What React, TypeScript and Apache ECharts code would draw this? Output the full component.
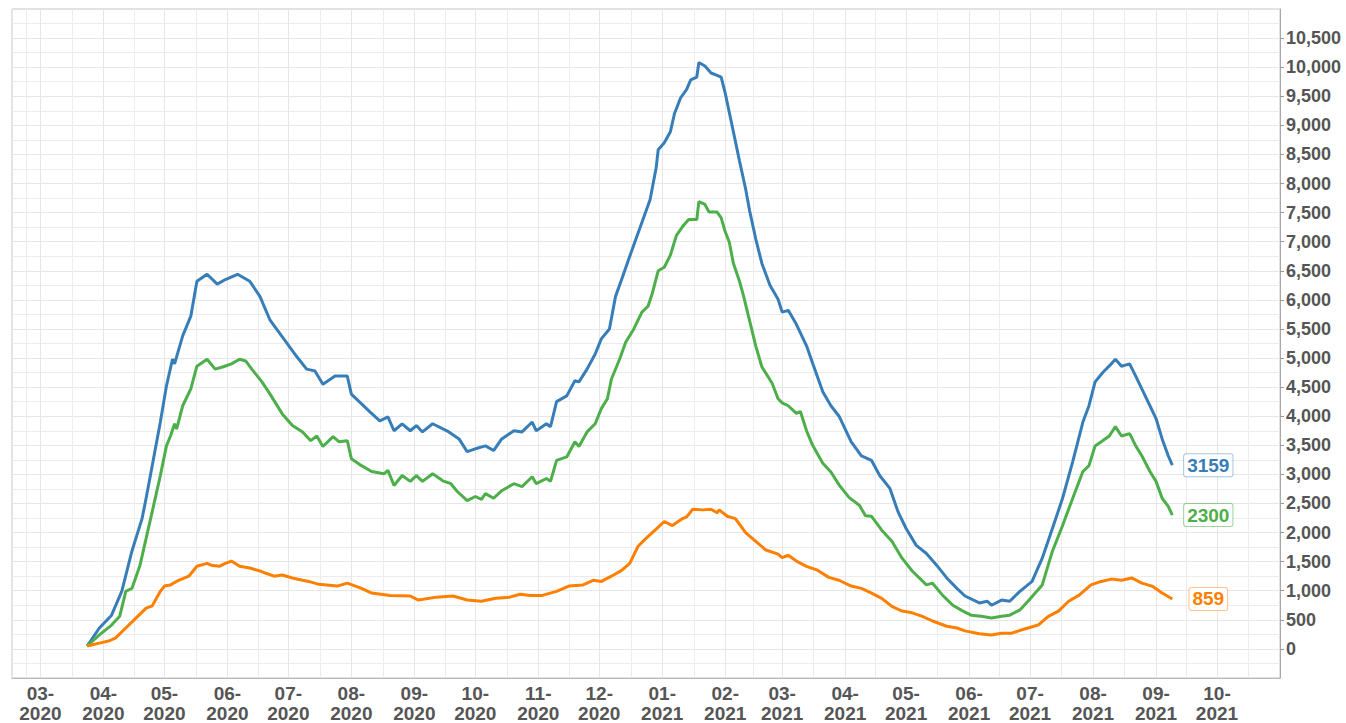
import React, { useEffect, useRef } from "react";
import * as echarts from "echarts";

// ---- Data ----
const seriesNames = ["Total", "Group A", "Group B"];
const seriesColors = ["#377eb8", "#4daf4a", "#ff7f00"];
const labelBorderColors = ["rgba(55,126,184,0.45)", "rgba(77,175,74,0.55)", "rgba(255,127,0,0.45)"];

const yTickValues = [0, 500, 1000, 1500, 2000, 2500, 3000, 3500, 4000, 4500, 5000, 5500, 6000, 6500, 7000, 7500, 8000, 8500, 9000, 9500, 10000, 10500];

const totalData: [string, number][] = [
  ["2020-03-24", 50], ["2020-03-30", 360], ["2020-04-05", 580], ["2020-04-10", 990], ["2020-04-13", 1400],
  ["2020-04-15", 1680], ["2020-04-20", 2240], ["2020-04-22", 2590], ["2020-04-25", 3150], ["2020-04-29", 3900],
  ["2020-05-02", 4520], ["2020-05-05", 4980], ["2020-05-06", 4900], ["2020-05-10", 5380], ["2020-05-14", 5720],
  ["2020-05-17", 6320], ["2020-05-22", 6440], ["2020-05-27", 6270], ["2020-05-31", 6350], ["2020-06-06", 6440],
  ["2020-06-12", 6320], ["2020-06-17", 6060], ["2020-06-22", 5650], ["2020-06-30", 5270], ["2020-07-05", 5030],
  ["2020-07-10", 4810], ["2020-07-14", 4780], ["2020-07-18", 4550], ["2020-07-24", 4690], ["2020-07-30", 4690],
  ["2020-08-01", 4380], ["2020-08-10", 4080], ["2020-08-15", 3920], ["2020-08-19", 3990], ["2020-08-22", 3750],
  ["2020-08-26", 3870], ["2020-08-30", 3750], ["2020-09-02", 3840], ["2020-09-05", 3730], ["2020-09-10", 3870],
  ["2020-09-18", 3730], ["2020-09-23", 3610], ["2020-09-27", 3390], ["2020-10-01", 3440], ["2020-10-06", 3490],
  ["2020-10-10", 3410], ["2020-10-14", 3610], ["2020-10-20", 3750], ["2020-10-24", 3730], ["2020-10-29", 3900],
  ["2020-10-31", 3750], ["2020-11-05", 3870], ["2020-11-07", 3820], ["2020-11-10", 4250], ["2020-11-15", 4350],
  ["2020-11-19", 4610], ["2020-11-21", 4590], ["2020-11-25", 4810], ["2020-11-29", 5070], ["2020-12-02", 5330],
  ["2020-12-06", 5500], ["2020-12-09", 6060], ["2020-12-12", 6350], ["2020-12-16", 6750], ["2020-12-26", 7720],
  ["2020-12-29", 8270], ["2020-12-30", 8580], ["2021-01-02", 8700], ["2021-01-05", 8890], ["2021-01-07", 9200],
  ["2021-01-10", 9470], ["2021-01-13", 9620], ["2021-01-15", 9780], ["2021-01-18", 9830], ["2021-01-19", 10080],
  ["2021-01-22", 10020], ["2021-01-25", 9900], ["2021-01-28", 9860], ["2021-01-30", 9830], ["2021-02-01", 9550],
  ["2021-02-03", 9220], ["2021-02-05", 8890], ["2021-02-08", 8390], ["2021-02-11", 7910], ["2021-02-13", 7530],
  ["2021-02-16", 7050], ["2021-02-19", 6630], ["2021-02-23", 6250], ["2021-02-27", 6010], ["2021-03-01", 5790],
  ["2021-03-04", 5820], ["2021-03-08", 5580], ["2021-03-13", 5210], ["2021-03-16", 4910], ["2021-03-21", 4420],
  ["2021-03-25", 4180], ["2021-03-29", 4000], ["2021-04-04", 3560], ["2021-04-09", 3320], ["2021-04-14", 3240],
  ["2021-04-18", 2980], ["2021-04-23", 2760], ["2021-04-27", 2360], ["2021-05-01", 2070], ["2021-05-06", 1780],
  ["2021-05-11", 1640], ["2021-05-16", 1440], ["2021-05-21", 1220], ["2021-05-26", 1040], ["2021-05-30", 910],
  ["2021-06-06", 790], ["2021-06-10", 820], ["2021-06-12", 750], ["2021-06-17", 840], ["2021-06-21", 820],
  ["2021-06-26", 990], ["2021-07-02", 1160], ["2021-07-07", 1560], ["2021-07-12", 2070], ["2021-07-17", 2590],
  ["2021-07-22", 3220], ["2021-07-27", 3900], ["2021-07-30", 4180], ["2021-08-02", 4590], ["2021-08-06", 4760],
  ["2021-08-10", 4900], ["2021-08-12", 4980], ["2021-08-15", 4860], ["2021-08-19", 4900], ["2021-08-22", 4690],
  ["2021-08-25", 4470], ["2021-08-29", 4180], ["2021-09-01", 3960], ["2021-09-04", 3610], ["2021-09-07", 3320],
  ["2021-09-09", 3159],
];

const groupAData: [string, number][] = [
  ["2020-03-24", 50], ["2020-03-30", 240], ["2020-04-05", 410], ["2020-04-09", 560], ["2020-04-12", 990],
  ["2020-04-15", 1040], ["2020-04-19", 1440], ["2020-04-22", 1900], ["2020-04-25", 2360], ["2020-04-29", 2980],
  ["2020-05-02", 3490], ["2020-05-04", 3660], ["2020-05-06", 3870], ["2020-05-07", 3780], ["2020-05-10", 4180],
  ["2020-05-14", 4470], ["2020-05-17", 4860], ["2020-05-22", 4980], ["2020-05-26", 4810], ["2020-05-30", 4850],
  ["2020-06-03", 4900], ["2020-06-07", 4980], ["2020-06-10", 4950], ["2020-06-13", 4810], ["2020-06-18", 4590],
  ["2020-06-22", 4380], ["2020-06-28", 4040], ["2020-07-03", 3840], ["2020-07-08", 3730], ["2020-07-12", 3580],
  ["2020-07-15", 3660], ["2020-07-18", 3480], ["2020-07-23", 3650], ["2020-07-26", 3560], ["2020-07-30", 3580],
  ["2020-08-01", 3270], ["2020-08-06", 3150], ["2020-08-11", 3050], ["2020-08-17", 3010], ["2020-08-19", 3070],
  ["2020-08-22", 2810], ["2020-08-26", 2980], ["2020-08-30", 2880], ["2020-09-02", 2980], ["2020-09-05", 2880],
  ["2020-09-10", 3010], ["2020-09-15", 2890], ["2020-09-19", 2840], ["2020-09-22", 2710], ["2020-09-27", 2550],
  ["2020-10-01", 2620], ["2020-10-04", 2570], ["2020-10-06", 2670], ["2020-10-10", 2590], ["2020-10-14", 2720],
  ["2020-10-20", 2840], ["2020-10-24", 2790], ["2020-10-29", 2960], ["2020-10-31", 2840], ["2020-11-05", 2930],
  ["2020-11-07", 2880], ["2020-11-10", 3240], ["2020-11-15", 3300], ["2020-11-19", 3560], ["2020-11-21", 3480],
  ["2020-11-25", 3730], ["2020-11-29", 3870], ["2020-12-02", 4130], ["2020-12-05", 4300], ["2020-12-07", 4640],
  ["2020-12-11", 4980], ["2020-12-14", 5270], ["2020-12-18", 5500], ["2020-12-22", 5790], ["2020-12-25", 5890],
  ["2020-12-27", 6100], ["2020-12-30", 6500], ["2021-01-02", 6560], ["2021-01-05", 6770], ["2021-01-08", 7110],
  ["2021-01-11", 7260], ["2021-01-14", 7380], ["2021-01-18", 7380], ["2021-01-19", 7690], ["2021-01-22", 7640],
  ["2021-01-24", 7510], ["2021-01-28", 7510], ["2021-01-30", 7410], ["2021-02-01", 7170], ["2021-02-03", 6990],
  ["2021-02-05", 6630], ["2021-02-08", 6320], ["2021-02-10", 6070], ["2021-02-13", 5640], ["2021-02-16", 5210],
  ["2021-02-19", 4850], ["2021-02-24", 4570], ["2021-02-27", 4300], ["2021-03-01", 4230], ["2021-03-04", 4180],
  ["2021-03-08", 4050], ["2021-03-10", 4080], ["2021-03-13", 3750], ["2021-03-16", 3500], ["2021-03-21", 3190],
  ["2021-03-25", 3040], ["2021-03-29", 2820], ["2021-04-03", 2600], ["2021-04-08", 2470], ["2021-04-11", 2290],
  ["2021-04-14", 2280], ["2021-04-19", 2040], ["2021-04-24", 1850], ["2021-04-29", 1560], ["2021-05-04", 1340],
  ["2021-05-11", 1100], ["2021-05-14", 1130], ["2021-05-19", 920], ["2021-05-24", 750], ["2021-05-29", 650],
  ["2021-06-02", 580], ["2021-06-07", 560], ["2021-06-12", 530], ["2021-06-17", 560], ["2021-06-21", 580],
  ["2021-06-26", 670], ["2021-06-30", 820], ["2021-07-07", 1100], ["2021-07-12", 1680], ["2021-07-17", 2120],
  ["2021-07-22", 2590], ["2021-07-27", 3050], ["2021-07-30", 3150], ["2021-08-02", 3490], ["2021-08-05", 3560],
  ["2021-08-09", 3660], ["2021-08-12", 3820], ["2021-08-15", 3660], ["2021-08-19", 3700], ["2021-08-22", 3490],
  ["2021-08-25", 3320], ["2021-08-29", 3050], ["2021-09-01", 2880], ["2021-09-04", 2590], ["2021-09-07", 2450],
  ["2021-09-09", 2300],
];

const groupBData: [string, number][] = [
  ["2020-03-24", 50], ["2020-03-30", 100], ["2020-04-04", 140], ["2020-04-07", 190], ["2020-04-12", 360],
  ["2020-04-17", 530], ["2020-04-22", 700], ["2020-04-25", 740], ["2020-04-29", 990], ["2020-05-01", 1080],
  ["2020-05-04", 1100], ["2020-05-08", 1180], ["2020-05-13", 1250], ["2020-05-17", 1420], ["2020-05-22", 1470],
  ["2020-05-24", 1440], ["2020-05-28", 1420], ["2020-05-31", 1470], ["2020-06-03", 1510], ["2020-06-07", 1420],
  ["2020-06-12", 1390], ["2020-06-17", 1340], ["2020-06-20", 1300], ["2020-06-24", 1250], ["2020-06-28", 1270],
  ["2020-07-03", 1220], ["2020-07-08", 1180], ["2020-07-11", 1160], ["2020-07-16", 1110], ["2020-07-25", 1080],
  ["2020-07-30", 1130], ["2020-08-06", 1040], ["2020-08-11", 960], ["2020-08-20", 920], ["2020-08-30", 910],
  ["2020-09-03", 840], ["2020-09-12", 890], ["2020-09-20", 910], ["2020-09-27", 840], ["2020-10-04", 820],
  ["2020-10-11", 870], ["2020-10-18", 890], ["2020-10-23", 940], ["2020-10-28", 920], ["2020-11-03", 920],
  ["2020-11-10", 990], ["2020-11-16", 1080], ["2020-11-23", 1100], ["2020-11-28", 1180], ["2020-12-02", 1160],
  ["2020-12-07", 1250], ["2020-12-12", 1350], ["2020-12-16", 1470], ["2020-12-20", 1760], ["2020-12-24", 1900],
  ["2020-12-29", 2060], ["2021-01-02", 2190], ["2021-01-06", 2120], ["2021-01-11", 2240], ["2021-01-13", 2270],
  ["2021-01-16", 2400], ["2021-01-21", 2390], ["2021-01-25", 2400], ["2021-01-28", 2340], ["2021-01-29", 2390],
  ["2021-02-02", 2280], ["2021-02-06", 2240], ["2021-02-11", 2000], ["2021-02-16", 1850], ["2021-02-21", 1700],
  ["2021-02-27", 1630], ["2021-03-01", 1570], ["2021-03-04", 1610], ["2021-03-08", 1510], ["2021-03-13", 1420],
  ["2021-03-18", 1360], ["2021-03-24", 1230], ["2021-03-29", 1180], ["2021-04-04", 1080], ["2021-04-09", 1040],
  ["2021-04-14", 960], ["2021-04-19", 870], ["2021-04-24", 730], ["2021-04-29", 650], ["2021-05-04", 620],
  ["2021-05-09", 560], ["2021-05-14", 480], ["2021-05-21", 390], ["2021-05-26", 360], ["2021-05-30", 310],
  ["2021-06-06", 260], ["2021-06-12", 240], ["2021-06-17", 270], ["2021-06-22", 270], ["2021-06-27", 330],
  ["2021-06-30", 360], ["2021-07-05", 410], ["2021-07-10", 560], ["2021-07-15", 650], ["2021-07-20", 820],
  ["2021-07-25", 920], ["2021-07-31", 1100], ["2021-08-05", 1160], ["2021-08-10", 1200], ["2021-08-15", 1180],
  ["2021-08-20", 1220], ["2021-08-25", 1130], ["2021-08-30", 1080], ["2021-09-04", 960], ["2021-09-09", 859],
];

const allData = [totalData, groupAData, groupBData];

const X_MIN = "2020-02-16";
const X_MAX = "2021-11-01";

export default function App() {
  const ref = useRef<HTMLDivElement>(null);

  useEffect(() => {
    if (!ref.current) return;
    const chart = echarts.init(ref.current, undefined, { renderer: "svg" });
    const fontFamily = "'Liberation Sans', Arial, Helvetica, sans-serif";
    const DAY = 24 * 3600 * 1000;
    const maxTs = new Date(X_MAX + "T00:00:00").getTime();

    const series = allData.map((data, i) => ({
      name: seriesNames[i],
      type: "line",
      data,
      showSymbol: false,
      symbol: "none",
      lineStyle: { width: 3, color: seriesColors[i] },
      itemStyle: { color: seriesColors[i] },
      z: 2 + i,
      endLabel: {
        show: true,
        formatter: (p: any) => String(p.value[1]),
        color: seriesColors[i],
        fontFamily,
        fontWeight: "bold",
        fontSize: 19,
        backgroundColor: "#ffffff",
        borderColor: labelBorderColors[i],
        borderWidth: 1,
        borderRadius: 2,
        padding: [2, 3, 1, 3],
        distance: 36,
        align: "center",
      },
    }));

    chart.setOption({
      animation: false,
      backgroundColor: "#ffffff",
      grid: {
        left: 12,
        right: 66,
        top: 9,
        bottom: 43,
        show: true,
        borderColor: "#c4c4c4",
        borderWidth: 1,
        containLabel: false,
      },
      xAxis: {
        type: "time",
        min: X_MIN,
        max: X_MAX,
        splitNumber: 20,
        minInterval: 28 * DAY,
        maxInterval: 31 * DAY,
        axisLine: { show: true, onZero: false, lineStyle: { color: "#b8b8b8", width: 1 } },
        axisTick: { show: false },
        axisLabel: {
          showMinLabel: false,
          showMaxLabel: false,
          formatter: (value: number) => {
            if (value >= maxTs - DAY) return "";
            const d = new Date(value);
            const mm = String(d.getMonth() + 1).padStart(2, "0");
            return `${mm}-\n${d.getFullYear()}`;
          },
          fontFamily,
          fontSize: 19,
          fontWeight: "bold",
          color: "#555555",
          lineHeight: 20,
          margin: 5,
        },
        splitLine: { show: true, lineStyle: { color: "#e6e6e6", width: 1 } },
        minorTick: { show: false, splitNumber: 2 },
        minorSplitLine: { show: true, lineStyle: { color: "#ececec", width: 1 } },
      },
      yAxis: {
        type: "value",
        position: "right",
        min: -500,
        max: 11000,
        interval: 500,
        axisLine: { show: true, lineStyle: { color: "#a8a8a8", width: 1 } },
        axisTick: { show: true, length: 4, lineStyle: { color: "#999999" }, customValues: yTickValues },
        axisLabel: {
          customValues: yTickValues,
          formatter: (v: number) => (v < 0 || v > 10500 ? "" : v.toLocaleString("en-US")),
          fontFamily,
          fontSize: 18,
          fontWeight: "bold",
          color: "#555555",
          margin: 6,
        },
        splitLine: { show: true, lineStyle: { color: "#e6e6e6", width: 1 } },
        minorTick: { show: false, splitNumber: 2 },
        minorSplitLine: { show: true, lineStyle: { color: "#ececec", width: 1 } },
      },
      series,
    });

    return () => chart.dispose();
  }, []);

  return <div ref={ref} style={{ position: "fixed", left: 0, top: 0, width: 1346, height: 723 }} />;
}
